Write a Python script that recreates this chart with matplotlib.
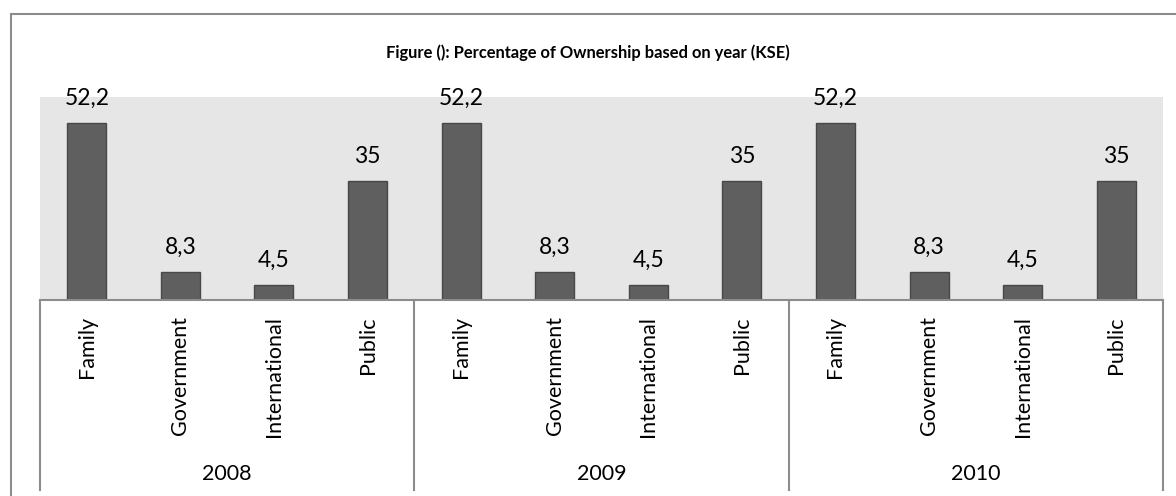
import matplotlib
matplotlib.use("Agg")
import matplotlib.pyplot as plt
from matplotlib.transforms import blended_transform_factory
from matplotlib.patches import Rectangle
from matplotlib.lines import Line2D

years = ["2008", "2009", "2010"]
categories = ["Family", "Government", "International", "Public"]
values = [52.2, 8.3, 4.5, 35.0]
value_labels = ["52,2", "8,3", "4,5", "35"]
title = "Figure (): Percentage of Ownership based on year (KSE)"

plt.rcParams['font.family'] = ['Lato', 'DejaVu Sans']

W, H = 1176, 496
fig = plt.figure(figsize=(W / 100, H / 100), dpi=100)
fig.patch.set_facecolor('white')

# outer chart border (extends past right/bottom edges)
fig.add_artist(Rectangle((10.5 / W, -0.1), 1.2, (H - 14) / H + 0.1,
                         transform=fig.transFigure, fill=False,
                         edgecolor='#8c8c8c', linewidth=1.5))

ax_left, ax_right, ax_top, ax_bottom = 40, 1163, 97, 300
ax = fig.add_axes([ax_left / W, (H - ax_bottom) / H,
                   (ax_right - ax_left) / W, (ax_bottom - ax_top) / H])
ax.set_facecolor('#e6e6e6')

n = len(categories)
xs = []
vals = []
labs = []
cats = []
for gi, y in enumerate(years):
    for ci, c in enumerate(categories):
        xs.append(gi * n + ci)
        vals.append(values[ci])
        labs.append(value_labels[ci])
        cats.append(c)

ax.bar(xs, vals, width=0.417, color='#5f5f5f', edgecolor='#484848', linewidth=1.0, zorder=3)
ax.set_xlim(-0.5, len(xs) - 0.5)
ax.set_ylim(0, 59.8)
for s in ax.spines.values():
    s.set_visible(False)
ax.set_xticks([])
ax.set_yticks([])
ax.axhline(0, color='#8c8c8c', linewidth=1.5, zorder=4, clip_on=False)

for x, v, l in zip(xs, vals, labs):
    ax.annotate(l, (x, v), xytext=(0, 10), textcoords='offset points',
                ha='center', va='bottom', fontsize=16.5, color='black',
                annotation_clip=False)

trans = blended_transform_factory(ax.transData, ax.transAxes)
ah = ax_bottom - ax_top
y_sep = -(490 - ax_bottom) / ah
for b in [-0.5 + k * n for k in range(len(years) + 1)]:
    ax.add_line(Line2D([b, b], [0, y_sep], transform=trans, color='#8c8c8c',
                       linewidth=1.5, clip_on=False))

y_cat = -(316 - ax_bottom) / ah
for x, c in zip(xs, cats):
    ax.text(x, y_cat, c, rotation=90, ha='center', va='top', fontsize=15.5,
            transform=trans, color='black')

y_year = -(474 - ax_bottom) / ah
for gi, y in enumerate(years):
    ax.text(gi * n + (n - 1) / 2, y_year, y, ha='center', va='center',
            fontsize=15.5, transform=trans, color='black')

fig.text(588 / W, 1 - 53 / H, title, ha='center', va='center',
         fontsize=11.9, fontweight='bold', color='black')

fig.savefig('out.png', dpi=100, facecolor='white')
